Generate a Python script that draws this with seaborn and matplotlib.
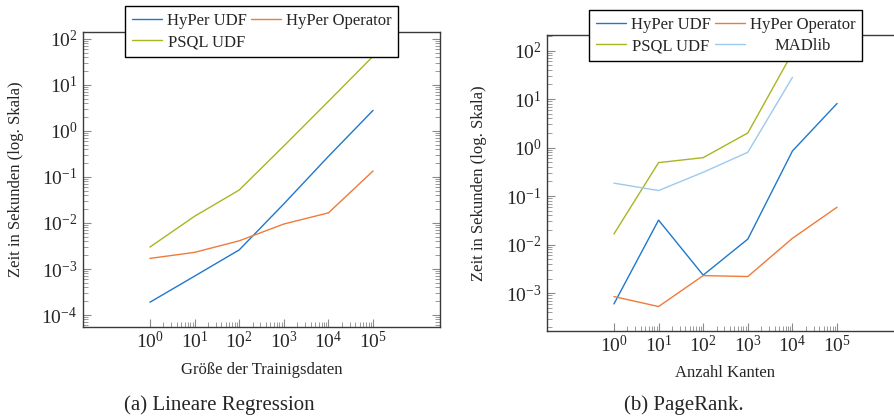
import numpy as np
import pandas as pd
import matplotlib
matplotlib.use("Agg")
import matplotlib.pyplot as plt
import matplotlib.ticker as mticker
import seaborn as sns

# ---- data ----
x_lr = [1, 10, 100, 1000, 10000, 100000]
lr_hyper_udf = [1.9e-4, 7.0e-4, 2.6e-3, 0.026, 0.28, 2.8]
lr_hyper_op = [1.7e-3, 2.3e-3, 4.1e-3, 9.5e-3, 0.0166, 0.135]
lr_psql_udf = [3.0e-3, 0.014, 0.052, 0.47, 4.4, 42]

x_pr = [1, 10, 100, 1000, 10000, 100000]
pr_hyper_udf = [6.0e-4, 0.032, 2.35e-3, 0.013, 0.85, 8.1]
pr_hyper_op = [8.5e-4, 5.3e-4, 2.3e-3, 2.2e-3, 0.0135, 0.059]
x_pr_psql = [1, 10, 100, 1000, 10000]
pr_psql_udf = [0.0166, 0.49, 0.62, 2.0, 90]
x_pr_mad = [1, 10, 100, 1000, 10000]
pr_madlib = [0.185, 0.13, 0.31, 0.8, 28]

series_names = ["HyPer UDF", "HyPer Operator", "PSQL UDF", "MADlib"]
colors = {"HyPer UDF": "#1f78cc", "HyPer Operator": "#ef7b3a",
          "PSQL UDF": "#aab522", "MADlib": "#9ccaee"}
xtick_vals = [1, 10, 100, 1000, 10000, 100000]

captions = ["(a) Lineare Regression", "(b) PageRank."]
xlabels = ["Größe der Trainigsdaten", "Anzahl Kanten"]
ylabel = "Zeit in Sekunden (log. Skala)"

df_lr = pd.concat([
    pd.DataFrame({"x": x_lr, "y": lr_hyper_udf, "s": "HyPer UDF"}),
    pd.DataFrame({"x": x_lr, "y": lr_hyper_op, "s": "HyPer Operator"}),
    pd.DataFrame({"x": x_lr, "y": lr_psql_udf, "s": "PSQL UDF"}),
])
df_pr = pd.concat([
    pd.DataFrame({"x": x_pr, "y": pr_hyper_udf, "s": "HyPer UDF"}),
    pd.DataFrame({"x": x_pr, "y": pr_hyper_op, "s": "HyPer Operator"}),
    pd.DataFrame({"x": x_pr_psql, "y": pr_psql_udf, "s": "PSQL UDF"}),
    pd.DataFrame({"x": x_pr_mad, "y": pr_madlib, "s": "MADlib"}),
])

sns.set_theme(style="ticks")
plt.rcParams["font.family"] = ["Liberation Serif", "DejaVu Serif"]
plt.rcParams["mathtext.fontset"] = "stix"

fig = plt.figure(figsize=(8.95, 4.16), dpi=100)
ax1 = fig.add_axes([83 / 895, 1 - 327 / 416, 357 / 895, 295 / 416])
ax2 = fig.add_axes([547 / 895, 1 - 331 / 416, 357 / 895, 296 / 416])

spine_col = "#3a3a3a"
tick_col = "#8a8a8a"


def style_axes(ax, df, order, ylim, right_ticks):
    sns.lineplot(data=df, x="x", y="y", hue="s", hue_order=order,
                 palette=colors, ax=ax, legend=False, linewidth=1.0,
                 estimator=None, sort=False)
    ax.set_xscale("log")
    ax.set_yscale("log")
    ax.set_xlim(10 ** -1.5, 10 ** 6.5)
    ax.set_ylim(*ylim)
    ax.xaxis.set_major_locator(mticker.FixedLocator(xtick_vals))
    minors = [m * d for d in xtick_vals[:-1] for m in range(2, 10)]
    ax.xaxis.set_minor_locator(mticker.FixedLocator(minors))
    ax.xaxis.set_major_formatter(mticker.LogFormatterMathtext())
    ax.xaxis.set_minor_formatter(mticker.NullFormatter())
    ax.yaxis.set_major_locator(mticker.LogLocator(base=10, numticks=20))
    ax.yaxis.set_minor_locator(mticker.LogLocator(base=10, subs=np.arange(2, 10), numticks=20))
    ax.yaxis.set_major_formatter(mticker.LogFormatterMathtext())
    ax.yaxis.set_minor_formatter(mticker.NullFormatter())
    ax.tick_params(axis="both", which="major", direction="in", length=6,
                   width=0.8, color=tick_col, labelsize=14)
    ax.tick_params(axis="x", which="major", pad=3)
    ax.tick_params(axis="y", which="major", pad=4)
    ax.tick_params(axis="both", which="minor", direction="in", length=3.5,
                   width=0.6, color=tick_col)
    ax.tick_params(axis="x", which="both", top=False, bottom=True)
    ax.tick_params(axis="y", which="both", left=True, right=right_ticks)
    for sp in ax.spines.values():
        sp.set_visible(True)
        sp.set_color(spine_col)
        sp.set_linewidth(1.0)
    ax.set_xlabel("")
    ax.set_ylabel("")


style_axes(ax1, df_lr, series_names[:3], (10 ** -4.26, 10 ** 2.15), True)
style_axes(ax2, df_pr, series_names, (10 ** -3.78, 10 ** 2.32), True)

ax1.set_xlabel(xlabels[0], fontsize=12)
ax1.xaxis.set_label_coords(0.5, -0.119)
ax1.set_ylabel(ylabel, fontsize=12)
ax1.yaxis.set_label_coords(-0.165, 0.5)
ax2.set_xlabel(xlabels[1], fontsize=12)
ax2.xaxis.set_label_coords(0.5, -0.115)
ax2.set_ylabel(ylabel, fontsize=12)
ax2.yaxis.set_label_coords(-0.168, 0.5)


def make_legend(ax, names, anchor_y):
    # row-major order as in the reference (matplotlib fills columns first)
    rows = [names[i:i + 2] for i in range(0, len(names), 2)]
    ordered = [r[0] for r in rows] + [r[1] for r in rows if len(r) > 1]
    handles = [plt.Line2D([], [], color=colors[n], lw=1.0) for n in ordered]
    leg = ax.legend(handles, ordered, loc="upper center",
                    bbox_to_anchor=(0.5, anchor_y), ncol=2, fontsize=12,
                    frameon=True, fancybox=False, framealpha=1.0,
                    edgecolor="black", borderpad=0.4, handlelength=1.8,
                    handletextpad=0.3, columnspacing=0.25, labelspacing=0.33,
                    borderaxespad=0)
    leg.get_frame().set_linewidth(1.0)
    return leg


leg1 = make_legend(ax1, series_names[:3], 1.088)
leg2 = make_legend(ax2, series_names, 1.084)

fig.text(219.5 / 895, 1 - 405 / 416, captions[0], ha="center", va="center", fontsize=15)
fig.text(683.5 / 895, 1 - 405 / 416, captions[1], ha="center", va="center", fontsize=15)

# center legend entries within their column (pgfplots style)
fig.canvas.draw()
renderer = fig.canvas.get_renderer()
for leg, names in [(leg1, series_names[:3]), (leg2, series_names)]:
    texts = {t.get_text(): t for t in leg.get_texts()}
    col2 = [n for i, n in enumerate(names) if i % 2 == 1]
    col1 = [n for i, n in enumerate(names) if i % 2 == 0]
    for col in (col1, col2):
        widths = {n: texts[n].get_window_extent(renderer).width for n in col}
        wmax = max(widths.values())
        for n in col:
            shift = (wmax - widths[n]) / 2.0
            if shift > 1:
                texts[n].set_x(shift)

fig.savefig("out.png", dpi=100)
